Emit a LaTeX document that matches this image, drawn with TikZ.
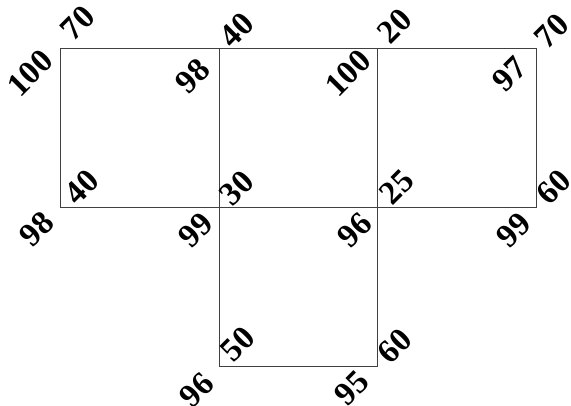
\documentclass[tikz,border=0pt]{standalone}
\usepackage{fontspec}
\setmainfont{Liberation Serif}
\usepackage{tikz}
\begin{document}
\begin{tikzpicture}[x=1pt, y=-1pt,
  cell/.style={draw=black!75, line width=0.8pt},
  val/.style={font=\fontsize{33}{33}\selectfont\bfseries, rotate=45, inner sep=0pt}]
\useasboundingbox (0,0) rectangle (571,406);
% the four squares
\draw[cell] (60,48) rectangle (219,207);
\draw[cell] (219,48) rectangle (377,207);
\draw[cell] (377,48) rectangle (536,207);
\draw[cell] (219,207) rectangle (377,366);
% left square
\node[val] (lTop) at (78,23) {70};
\node[val] (lSide) at (30,73) {100};
\node[val] (lInTR) at (193,76) {98};
\node[val] (lInBL) at (82,187) {40};
\node[val] (lBL) at (37,229) {98};
\node[val] (lBR) at (196,230) {99};
% middle square
\node[val] (mTop) at (237,30) {40};
\node[val] (mInTR) at (348,73) {100};
\node[val] (mInBL) at (237,188) {30};
\node[val] (mBR) at (355,230) {96};
% right square
\node[val] (rTop) at (395,26) {20};
\node[val] (rTR) at (552,31) {70};
\node[val] (rInTR) at (510,74) {97};
\node[val] (rInBL) at (397,187) {25};
\node[val] (rSide) at (554,187) {60};
\node[val] (rBR) at (514,230) {99};
% bottom square
\node[val] (bInBL) at (238,344) {50};
\node[val] (bSide) at (395,346) {60};
\node[val] (bBL) at (197,390) {96};
\node[val] (bBR) at (352,388) {95};
\end{tikzpicture}
\end{document}
